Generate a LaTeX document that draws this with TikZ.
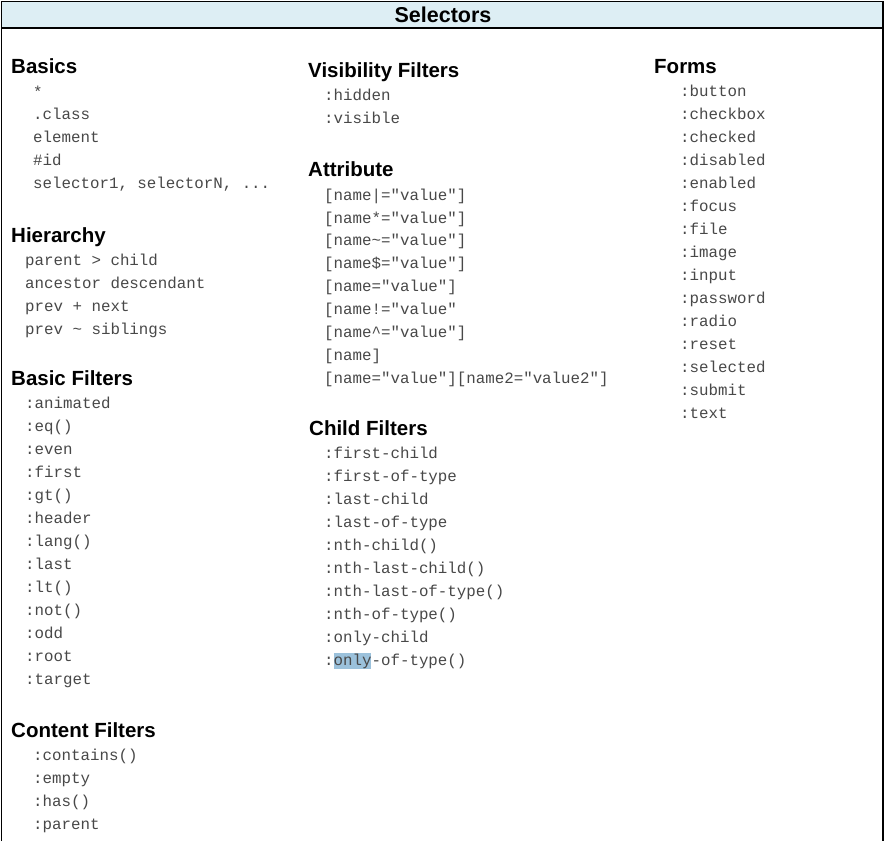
\documentclass[tikz,border=0pt]{standalone}
\usepackage{fontspec}
\setmainfont{Liberation Sans}
\setmonofont{Liberation Mono}
\definecolor{hdrfill}{RGB}{221,238,244}
\definecolor{itemcol}{RGB}{72,72,72}
\definecolor{hlcol}{RGB}{155,193,219}
\tikzset{
  head/.style={anchor=base west, inner sep=0pt, font=\fontsize{20.5}{22}\selectfont\bfseries, text=black},
  item/.style={anchor=base west, inner sep=0pt, font=\fontsize{15.8}{18}\ttfamily, text=itemcol},
  frame/.style={line width=1.3pt, draw=black}
}
\begin{document}
\begin{tikzpicture}[x=1pt,y=-1pt]
\useasboundingbox (0,0) rectangle (886,841);
\fill[white] (0,0) rectangle (886,841);
\fill[hdrfill] (1.5,1.5) rectangle (883,28);
\draw[frame] (1.5,841) -- (1.5,1.5) -- (883,1.5) -- (883,841);
\draw[frame] (1.5,28) -- (883,28);
\node[anchor=base, inner sep=0pt, font=\fontsize{21.5}{23}\selectfont\bfseries] (title) at (443,22.5) {Selectors};

% Basics
\node[head] (h1) at (11,73) {Basics};
\node[item] (b1) at (33,97) {*};
\node[item] (b2) at (33,119) {.class};
\node[item] (b3) at (33,142) {element};
\node[item] (b4) at (33,165) {\#id};
\node[item] (b5) at (33,188) {selector1, selectorN, ...};

% Hierarchy
\node[head] (h2) at (11,242) {Hierarchy};
\node[item] (r1) at (25,265) {parent > child};
\node[item] (r2) at (25,288) {ancestor descendant};
\node[item] (r3) at (25,311) {prev + next};
\node[item] (r4) at (25,334) {prev \textasciitilde{} siblings};

% Basic Filters
\node[head] (h3) at (11,385) {Basic Filters};
\foreach \t [count=\i] in {:animated,:eq(),:even,:first,:gt(),:header,:lang(),:last,:lt(),:not(),:odd,:root,:target}
  \node[item] (f\i) at (25,408+23*\i-23) {\t};

% Content Filters
\node[head] (h4) at (11,737) {Content Filters};
\foreach \t [count=\i] in {:contains(),:empty,:has(),:parent}
  \node[item] (c\i) at (33,760+23*\i-23) {\t};

% Visibility Filters
\node[head] (h5) at (308,77) {Visibility Filters};
\node[item] (v1) at (324,100) {:hidden};
\node[item] (v2) at (324,123) {:visible};

% Attribute
\node[head] (h6) at (308,176) {Attribute};
\node[item] (a1) at (324,200) {[name|="value"]};
\node[item] (a2) at (324,223) {[name*="value"]};
\node[item] (a3) at (324,245) {[name\textasciitilde="value"]};
\node[item] (a4) at (324,268) {[name\$="value"]};
\node[item] (a5) at (324,291) {[name="value"]};
\node[item] (a6) at (324,314) {[name!="value"};
\node[item] (a7) at (324,337) {[name\textasciicircum="value"]};
\node[item] (a8) at (324,360) {[name]};
\node[item] (a9) at (324,383) {[name="value"][name2="value2"]};

% Child Filters
\node[head] (h7) at (309,435) {Child Filters};
\fill[hlcol] (334,653) rectangle (371,669);
\foreach \t [count=\i] in {:first-child,:first-of-type,:last-child,:last-of-type,:nth-child(),:nth-last-child(),:nth-last-of-type(),:nth-of-type(),:only-child,:only-of-type()}
  \node[item] (k\i) at (324,458+23*\i-23) {\t};

% Forms
\node[head] (h8) at (654,73) {Forms};
\foreach \t [count=\i] in {:button,:checkbox,:checked,:disabled,:enabled,:focus,:file,:image,:input,:password,:radio,:reset,:selected,:submit,:text}
  \node[item] (m\i) at (680,96+23*\i-23) {\t};
\end{tikzpicture}
\end{document}
